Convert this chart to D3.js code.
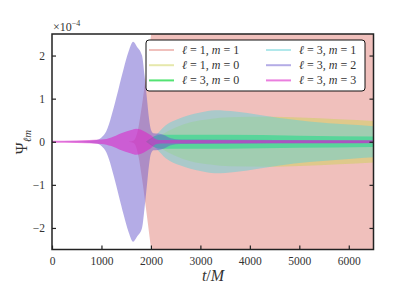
<!DOCTYPE html>
<html>
<script src="https://d3js.org/d3.v7.min.js"></script>
<body style="margin:0;background:#fff">
<svg id="canvas" width="415" height="286"></svg>
<script>
    // envelope knots (t in M, amplitude in units of 1e-4), bands are +/- amplitude
    const t11 = [1550, 1650, 1700, 1750, 1800, 1850, 1900, 1950, 2000, 2050, 2100, 2200, 2500, 6500];
    const a11 = [0, 0.03, 0.12, 0.35, 0.7, 1.1, 1.55, 2.0, 2.45, 2.85, 3.3, 4.0, 6.0, 6.0];

    const t10 = [2000, 2200, 2500, 2800, 3200, 3600, 4400, 5000, 5800, 6500];
    const a10 = [0, 0.15, 0.33, 0.45, 0.53, 0.57, 0.58, 0.56, 0.52, 0.48];

    const t30 = [1900, 2000, 2200, 3500, 5000, 6500];
    const a30 = [0, 0.08, 0.16, 0.16, 0.14, 0.12];

    const t31 = [1950, 2100, 2300, 2600, 3000, 3300, 3700, 4200, 4600, 5200, 6000, 6500];
    const a31 = [0, 0.15, 0.38, 0.55, 0.68, 0.73, 0.70, 0.62, 0.55, 0.47, 0.40, 0.36];

    const t32 = [0, 600, 900, 1000, 1100, 1150, 1250, 1350, 1450, 1550, 1640, 1720, 1820, 1870, 1920, 1960, 2000, 2050, 2150, 2250, 2400, 2600, 6500];
    const a32 = [0, 0.01, 0.04, 0.1, 0.25, 0.4, 0.8, 1.25, 1.7, 2.1, 2.32, 2.2, 2.0, 1.55, 1.0, 0.55, 0.28, 0.2, 0.19, 0.16, 0.08, 0.05, 0.03];

    const t33 = [0, 500, 1000, 1200, 1400, 1600, 1700, 1800, 1900, 2000, 2100, 2200, 6500];
    const a33 = [0.025, 0.03, 0.05, 0.1, 0.2, 0.27, 0.3, 0.28, 0.22, 0.15, 0.06, 0.04, 0.035];

    const labels = [["1", "1"], ["1", "0"], ["3", "0"], ["3", "1"], ["3", "2"], ["3", "3"]];
    const colors = ["#e18179", "#cdd25a", "#28dc50", "#64d2d7", "#6a5acd", "#dc28c8"];
    const alphas = [0.5, 0.5, 0.8, 0.5, 0.5, 0.6];
    const times = [t11, t10, t30, t31, t32, t33];
    const amps = [a11, a10, a30, a31, a32, a33];

    const xTicks = [0, 1000, 2000, 3000, 4000, 5000, 6000];
    const yTicks = [-2, -1, 0, 1, 2];

    const svg = d3.select("#canvas");
    const mLeft = 52, mRight = 373.5, mTop = 34, mBottom = 249.5;

    const x = d3.scaleLinear().domain([0, 6500]).range([mLeft, mRight]);
    const y = d3.scaleLinear().domain([-2.5, 2.5]).range([mBottom, mTop]);

    svg.append("defs").append("clipPath").attr("id", "clip")
        .append("rect").attr("x", mLeft).attr("y", mTop)
        .attr("width", mRight - mLeft).attr("height", mBottom - mTop);

    const g = svg.append("g").attr("clip-path", "url(#clip)");

    const area = d3.area()
        .x(d => x(d[0]))
        .y0(d => y(-d[1]))
        .y1(d => y(d[1]))
        .curve(d3.curveMonotoneX);

    times.forEach((ts, i) => {
        const pts = ts.map((t, j) => [t, amps[i][j]]);
        g.append("path")
            .attr("d", area(pts))
            .attr("fill", colors[i])
            .attr("fill-opacity", alphas[i]);
    });

    // axes with inward ticks
    const font = "Liberation Serif, DejaVu Serif, serif";
    const bAxis = svg.append("g").attr("transform", `translate(0,${mBottom})`)
        .call(d3.axisBottom(x).tickValues(xTicks).tickSizeInner(-4).tickSizeOuter(0).tickPadding(7)
            .tickFormat(d3.format("d")));
    const lAxis = svg.append("g").attr("transform", `translate(${mLeft},0)`)
        .call(d3.axisLeft(y).tickValues(yTicks).tickSizeInner(-4).tickSizeOuter(0).tickPadding(7)
            .tickFormat(d => d < 0 ? "\u2212" + Math.abs(d) : d));
    const rAxis = svg.append("g").attr("transform", `translate(${mRight},0)`)
        .call(d3.axisRight(y).tickValues(yTicks).tickSizeInner(-4).tickSizeOuter(0).tickFormat(""));

    [bAxis, lAxis, rAxis].forEach(a => {
        a.select(".domain").remove();
        a.selectAll(".tick line").attr("stroke", "#222").attr("stroke-width", 1.2);
        a.selectAll("text").attr("font-family", font).attr("font-size", 11.5).attr("fill", "#333");
    });

    svg.append("rect")
        .attr("x", mLeft).attr("y", mTop)
        .attr("width", mRight - mLeft).attr("height", mBottom - mTop)
        .attr("fill", "none").attr("stroke", "#222").attr("stroke-width", 1.5);

    // offset text
    const off = svg.append("text").attr("x", 53).attr("y", 31)
        .attr("font-family", font).attr("font-size", 12).attr("fill", "#333");
    off.append("tspan").text("\u00d710");
    off.append("tspan").attr("dy", -5).attr("font-size", 8).text("\u22124");

    // axis labels
    const xl = svg.append("text").attr("x", 213).attr("y", 281).attr("text-anchor", "middle")
        .attr("font-family", font).attr("font-size", 16).attr("fill", "#333");
    xl.append("tspan").attr("font-style", "italic").text("t");
    xl.append("tspan").text("/");
    xl.append("tspan").attr("font-style", "italic").text("M");

    const yl = svg.append("text").attr("transform", "translate(27,142) rotate(-90)")
        .attr("text-anchor", "middle")
        .attr("font-family", font).attr("font-size", 16).attr("fill", "#333");
    yl.append("tspan").text("\u03a8");
    yl.append("tspan").attr("dy", 4).attr("font-size", 11).attr("font-style", "italic").text("\u2113m");

    // legend
    const lg = svg.append("g");
    lg.append("rect").attr("x", 146).attr("y", 40).attr("width", 219).attr("height", 51)
        .attr("rx", 3).attr("fill", "#fff").attr("stroke", "#111").attr("stroke-width", 1);
    labels.forEach((lab, i) => {
        const col = Math.floor(i / 3), row = i % 3;
        const lx = col === 0 ? 149 : 266;
        const ly = 50 + row * 15.2;
        lg.append("line").attr("x1", lx).attr("x2", lx + 25).attr("y1", ly).attr("y2", ly)
            .attr("stroke", colors[i]).attr("stroke-opacity", alphas[i]).attr("stroke-width", 2);
        const tx = lg.append("text").attr("x", lx + 33).attr("y", ly + 4)
            .attr("font-family", font).attr("font-size", 12).attr("fill", "#333");
        tx.append("tspan").attr("font-style", "italic").text("\u2113");
        tx.append("tspan").text(" = " + lab[0] + ", ");
        tx.append("tspan").attr("font-style", "italic").text("m");
        tx.append("tspan").text(" = " + lab[1]);
    });
</script>
</body>
</html>
